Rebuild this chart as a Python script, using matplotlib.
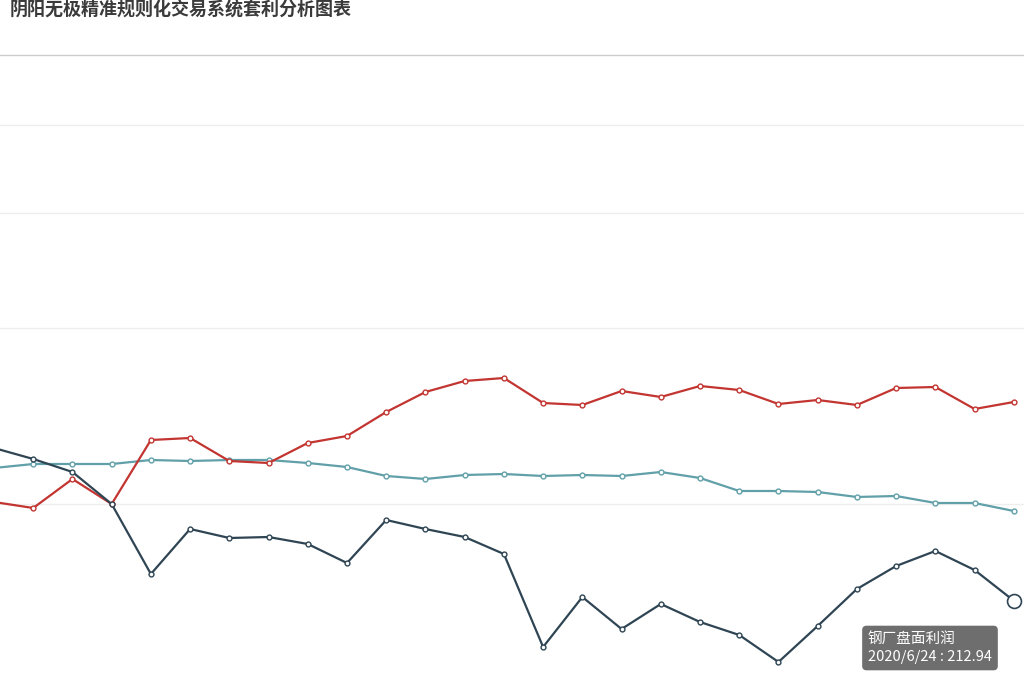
import matplotlib
matplotlib.use("Agg")
import matplotlib.pyplot as plt

plt.rcParams['font.family'] = ['Noto Sans CJK SC', 'DejaVu Sans']

# 日期（交易日）
dates = ["2020/5/19", "2020/5/20", "2020/5/21", "2020/5/22", "2020/5/25", "2020/5/26",
         "2020/5/27", "2020/5/28", "2020/5/29", "2020/6/1", "2020/6/2", "2020/6/3",
         "2020/6/4", "2020/6/5", "2020/6/8", "2020/6/9", "2020/6/10", "2020/6/11",
         "2020/6/12", "2020/6/15", "2020/6/16", "2020/6/17", "2020/6/18", "2020/6/19",
         "2020/6/22", "2020/6/23", "2020/6/24"]

red_vals = [301.8, 296.4, 322.5, 300.0, 357.6, 359.4, 338.7, 336.9, 354.9, 361.2,
            382.8, 400.8, 410.7, 413.4, 390.9, 389.1, 401.7, 396.3, 406.2, 402.6,
            390.0, 393.6, 389.1, 404.4, 405.3, 385.5, 391.8]
teal_vals = [332.4, 336.0, 336.0, 336.0, 339.6, 338.7, 339.6, 339.6, 336.9, 333.3,
             325.2, 322.5, 326.1, 327.0, 325.2, 326.1, 325.2, 328.8, 323.4, 311.7,
             311.7, 310.8, 306.3, 307.2, 300.9, 300.9, 293.7]
profit_vals = [350.4, 340.5, 328.8, 300.0, 237.0, 277.5, 269.4, 270.3, 264.0, 246.9,
               285.6, 277.5, 270.3, 255.0, 171.3, 216.3, 187.5, 210.0, 193.8, 182.1,
               157.8, 190.2, 223.5, 244.2, 257.7, 240.6, 212.94]
grid_vals = [300, 458.4, 561.9, 641.1]

x = list(range(len(dates)))

fig = plt.figure(figsize=(10.24, 6.87), dpi=100)
ax = fig.add_axes([0, 0, 1, 632 / 687])

for g in grid_vals:
    ax.axhline(g, color="#eeeeee", lw=1, zorder=0)

ax.plot(x, teal_vals, color="#61a0a8", lw=1.6, marker="o", ms=3.5,
        mfc="white", mec="#61a0a8", mew=1, zorder=2)
ax.plot(x, red_vals, color="#c23531", lw=1.6, marker="o", ms=3.5,
        mfc="white", mec="#c23531", mew=1, zorder=3)
ax.plot(x, profit_vals, color="#2f4554", lw=1.6, marker="o", ms=3.5,
        mfc="white", mec="#2f4554", mew=1, zorder=4)
# 悬停点
ax.plot(x[-1], profit_vals[-1], marker="o", ms=10, mfc="white", mec="#2f4554",
        mew=1.2, zorder=5)

ax.set_xlim(0.153, 26.26)
ax.set_ylim(135.3, 704.1)
ax.set_xticks([])
ax.set_yticks([])
for s in ["left", "right", "bottom"]:
    ax.spines[s].set_visible(False)
ax.spines["top"].set_color("#cccccc")
ax.spines["top"].set_linewidth(1)

fig.text(10 / 1024, 1 - 9 / 687, "阴阳无极精准规则化交易系统套利分析图表",
         fontsize=13, fontweight="bold", color="#3a3a3a", va="center", ha="left")

# 提示框
fig.text(868 / 1024, 1 - 648 / 687, "钢厂盘面利润\n" + dates[-1] + " : " + str(profit_vals[-1]),
         fontsize=10.5, color="white", va="center", ha="left", linespacing=1.45,
         bbox=dict(boxstyle="round,pad=0.4,rounding_size=0.3", fc="#666666",
                   ec="none", alpha=0.95))

fig.savefig("out.png", dpi=100)
